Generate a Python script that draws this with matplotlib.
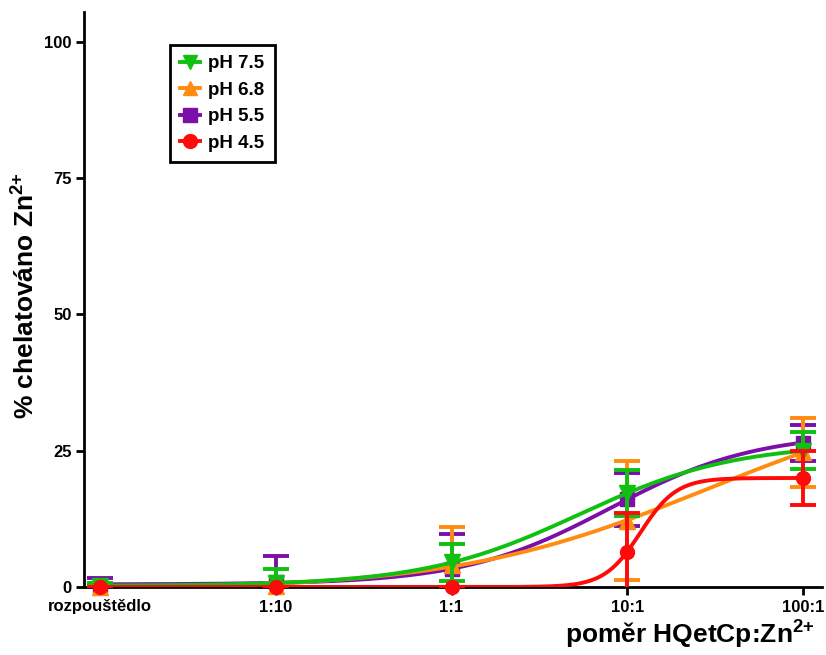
""" Chelation of Zn2+ by HQetCp at different pH - fitted sigmoid curves with SD """

import numpy as np
import matplotlib.pyplot as plt
from matplotlib.lines import Line2D

plt.rcParams["font.family"] = ["Liberation Sans", "DejaVu Sans"]
plt.rcParams["font.weight"] = "bold"
plt.rcParams["mathtext.fontset"] = "custom"
plt.rcParams["mathtext.rm"] = "Liberation Sans:bold"
plt.rcParams["mathtext.default"] = "rm"

ratios = ["rozpouštědlo", "1:10", "1:1", "10:1", "100:1"]
series = ["pH 7.5", "pH 6.8", "pH 5.5", "pH 4.5"]

ph75 = [0.2, 0.8, 4.5, 17.2, 25.0]
ph75_sd = [0.5, 2.5, 3.4, 4.2, 3.4]
ph68 = [0.0, 0.2, 4.0, 12.2, 24.7]
ph68_sd = [0.3, 0.5, 7.0, 10.9, 6.3]
ph55 = [0.3, 1.0, 3.3, 16.1, 26.5]
ph55_sd = [1.3, 4.7, 6.4, 4.9, 3.3]
ph45 = [0.0, 0.0, 0.0, 6.5, 20.0]
ph45_sd = [0.0, 0.0, 0.0, 7.0, 5.0]


def fit_sigmoid(x, y):
    # grid over midpoint / slope, bottom + top by linear least squares
    x0 = np.linspace(0.5, 6.0, 221)[:, None, None]
    k = np.linspace(0.3, 12.0, 235)[None, :, None]
    s = 1.0 / (1.0 + np.exp(-k * (x[None, None, :] - x0)))
    sm = s.mean(axis=2, keepdims=True)
    ym = y.mean()
    slope = ((s - sm) * (y - ym)).sum(axis=2) / ((s - sm) ** 2).sum(axis=2)
    icpt = ym - slope * sm[..., 0]
    err = ((icpt[..., None] + slope[..., None] * s - y) ** 2).sum(axis=2)
    i, j = np.unravel_index(np.argmin(err), err.shape)
    return x0[i, 0, 0], k[0, j, 0], icpt[i, j], slope[i, j]


x = np.arange(len(ratios), dtype=float)
xs = np.linspace(0, 4, 300)

fig = plt.figure(figsize=(8.26, 6.55), dpi=100)
ax = fig.add_axes([84 / 826, 68 / 655, 738 / 826, 575 / 655])

styles = [
    ("pH 5.5", ph55, ph55_sd, "#7B0FA8", "s", 10, 2),
    ("pH 6.8", ph68, ph68_sd, "#FF8C10", "^", 11, 3),
    ("pH 7.5", ph75, ph75_sd, "#10C010", "v", 11, 4),
    ("pH 4.5", ph45, ph45_sd, "#FF0A0A", "o", 10, 5),
]

for name, vals, sd, col, mk, ms, z in styles:
    y = np.array(vals)
    x0, k, b, a = fit_sigmoid(x, y)
    ax.plot(xs, b + a / (1 + np.exp(-k * (xs - x0))), color=col, lw=2.8, zorder=z)
    ax.errorbar(x, y, yerr=sd, fmt="none", ecolor=col, elinewidth=2.8,
                capsize=9.5, capthick=2.8, zorder=z)
    ax.plot(x, y, linestyle="none", marker=mk, ms=ms, color=col,
            clip_on=False, zorder=z + 0.5)

ax.set_xlim(-16 / 176, 4 + 19 / 176)
ax.set_ylim(0, 105.5)
ax.set_xticks(x)
ax.set_xticklabels(ratios, fontsize=12, fontweight="bold")
ax.set_yticks([0, 25, 50, 75, 100])
ax.tick_params(axis="both", width=2, length=6, labelsize=12, pad=3)
for side in ["top", "right"]:
    ax.spines[side].set_visible(False)
for side in ["left", "bottom"]:
    ax.spines[side].set_linewidth(2)

ax.set_ylabel("% chelatováno Zn$^{2{+}}$", fontsize=19, fontweight="bold")
ax.yaxis.set_label_coords(-0.060, 0.506)
ax.set_xlabel("poměr HQetCp:Zn$^{2{+}}$", fontsize=19, fontweight="bold", loc="right")
ax.xaxis.set_label_coords(0.9905, -0.0557)

handles = []
for name in series:
    st = [s for s in styles if s[0] == name][0]
    handles.append(Line2D([], [], color=st[3], marker=st[4], ms=10, lw=2.8))
leg = ax.legend(handles, series, loc="upper left", bbox_to_anchor=(170 / 826, 1 - 45 / 655),
                bbox_transform=fig.transFigure, borderaxespad=0, fancybox=False,
                framealpha=1, edgecolor="black", handlelength=1.05, handletextpad=0.45,
                borderpad=0.55, prop={"size": 13.5, "weight": "bold"}, labelspacing=0.5)
leg.get_frame().set_linewidth(2)

fig.savefig("out.png", dpi=100)
plt.close()
